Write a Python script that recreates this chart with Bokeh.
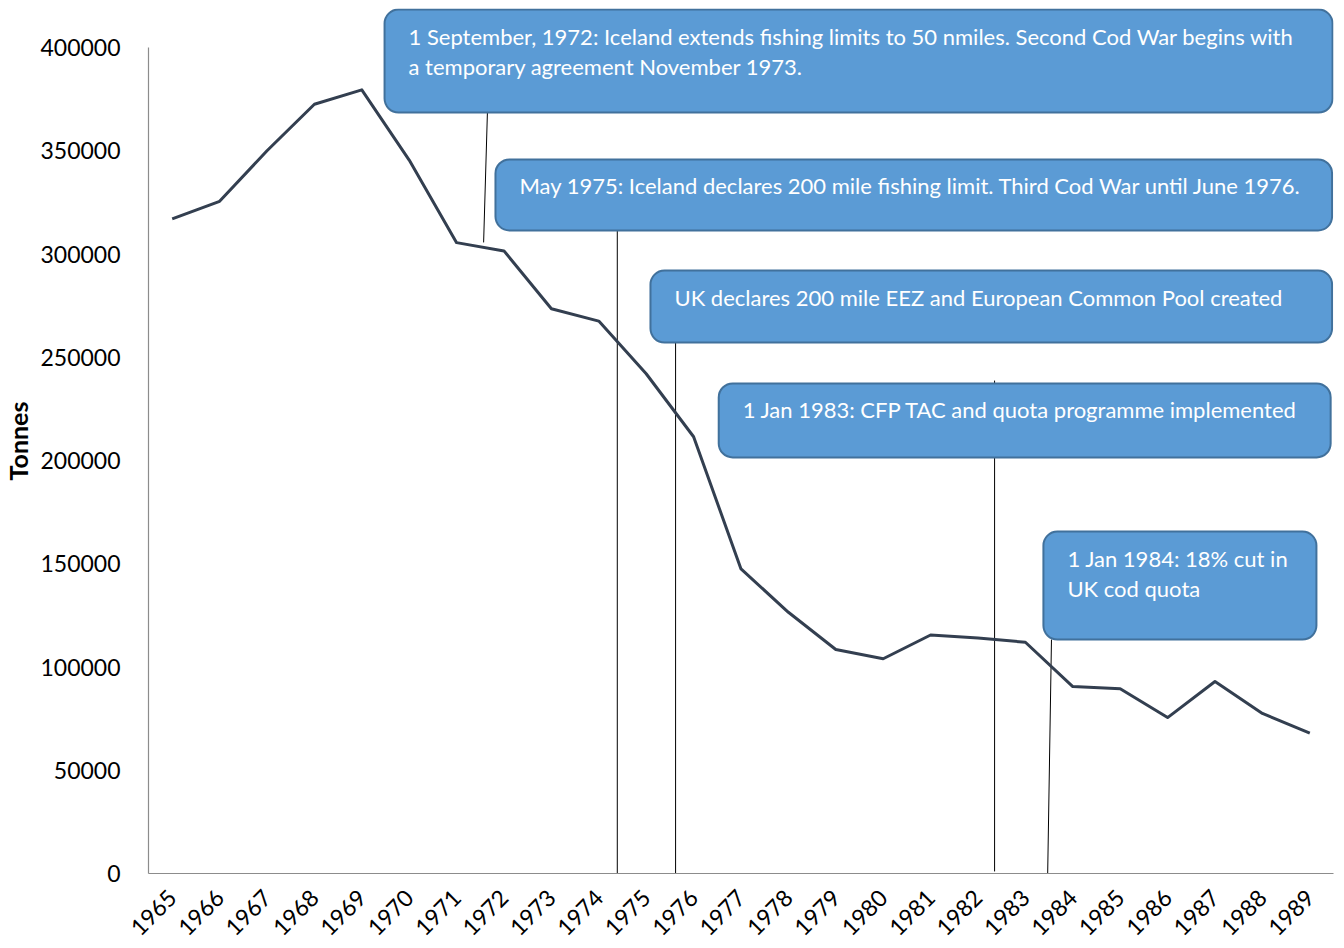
import math
from bokeh.plotting import figure
from bokeh.models import Range1d, FixedTicker
from bokeh.core.properties import value
from bokeh.embed import file_html
from bokeh.resources import INLINE

# ---- data ----
years = [str(y) for y in range(1965, 1990)]
landings = [317000, 325500, 350000, 372500, 379500, 345500, 305500, 301500,
            273500, 267500, 242000, 211500, 147500, 126500, 108500, 104000,
            115500, 114000, 112000, 90500, 89500, 75500, 93000, 77500, 68000]
y_ticks = [0, 50000, 100000, 150000, 200000, 250000, 300000, 350000, 400000]

# annotation callouts (x in category-index units, y in tonnes)
notes = [
    "1 September, 1972: Iceland extends fishing limits to 50 nmiles. Second Cod War begins with\na temporary agreement November 1973.",
    "May 1975: Iceland declares 200 mile fishing limit. Third Cod War until June 1976.",
    "UK declares 200 mile EEZ and European Common Pool created",
    "1 Jan 1983: CFP TAC and quota programme implemented",
    "1 Jan 1984: 18% cut in\nUK cod quota",
]
box_left = [4.48, 6.82, 10.09, 11.53, 18.38]
box_right = [24.48, 24.47, 24.47, 24.44, 24.14]
box_top = [418400, 345800, 292000, 237300, 165600]
box_bottom = [368500, 311400, 257100, 201500, 113300]
conn_x0 = [6.65, 9.39, 10.62, 17.35, 18.55]
conn_y0 = [368500, 311400, 257100, 238700, 113300]
conn_x1 = [6.57, 9.39, 10.62, 17.35, 18.47]
conn_y1 = [305600, 0, 0, 1000, 0]

FONT = "Lato"
frame_h = 865
y_end = 400000 * frame_h / 826.0

idx = list(range(len(years)))

p = figure(width=1336, height=940, frame_width=1185, frame_height=frame_h,
           min_border_left=142, min_border_right=9, min_border_top=8,
           min_border_bottom=67,
           x_range=Range1d(-0.5, len(years) - 0.5), y_range=Range1d(0, y_end),
           output_backend="svg", toolbar_location=None)

p.outline_line_color = None
p.xgrid.grid_line_color = None
p.ygrid.grid_line_color = None
p.background_fill_color = "white"
p.border_fill_color = "white"

# axes
p.xaxis.ticker = FixedTicker(ticks=idx)
p.xaxis.major_label_overrides = {i: y for i, y in zip(idx, years)}
p.xaxis.major_label_orientation = math.pi / 4
p.xaxis.major_tick_line_color = None
p.xaxis.minor_tick_line_color = None
p.xaxis.axis_line_color = "#8C8C8C"
p.xaxis.axis_line_width = 1.2
p.xaxis.major_label_text_font = FONT
p.xaxis.major_label_text_font_size = "23px"
p.xaxis.major_label_text_color = "black"
p.xaxis.major_label_standoff = 14

p.yaxis.ticker = FixedTicker(ticks=y_ticks)
p.yaxis.bounds = (0, 400000)
p.yaxis.formatter.use_scientific = False
p.yaxis.major_tick_line_color = None
p.yaxis.minor_tick_line_color = None
p.yaxis.axis_line_color = "#8C8C8C"
p.yaxis.axis_line_width = 1.2
p.yaxis.major_label_text_font = FONT
p.yaxis.major_label_text_font_size = "23px"
p.yaxis.major_label_text_color = "black"
p.yaxis.major_label_standoff = 22
p.yaxis.axis_label = "Tonnes"
p.yaxis.axis_label_text_font = FONT
p.yaxis.axis_label_text_font_size = "25px"
p.yaxis.axis_label_text_font_style = "bold"
p.yaxis.axis_label_text_color = "black"
p.yaxis.axis_label_standoff = 4

# connectors
p.segment(x0=conn_x0, y0=conn_y0, x1=conn_x1, y1=conn_y1,
          line_color="black", line_width=1)

# data line
p.line(x=idx, y=landings, line_color="#333F50", line_width=3,
       line_join="round")

# callout boxes
p.quad(left=box_left, right=box_right, top=box_top, bottom=box_bottom,
       fill_color="#5B9BD5", line_color="#41719C", line_width=2,
       border_radius=14)

p.text(x=box_left, y=box_top, text=notes, x_offset=24, y_offset=13,
       text_font=value(FONT), text_font_size="22px", text_color="white",
       text_baseline="top", text_align="left", text_line_height=1.13)

open("out.html", "w").write(file_html(p, INLINE))
